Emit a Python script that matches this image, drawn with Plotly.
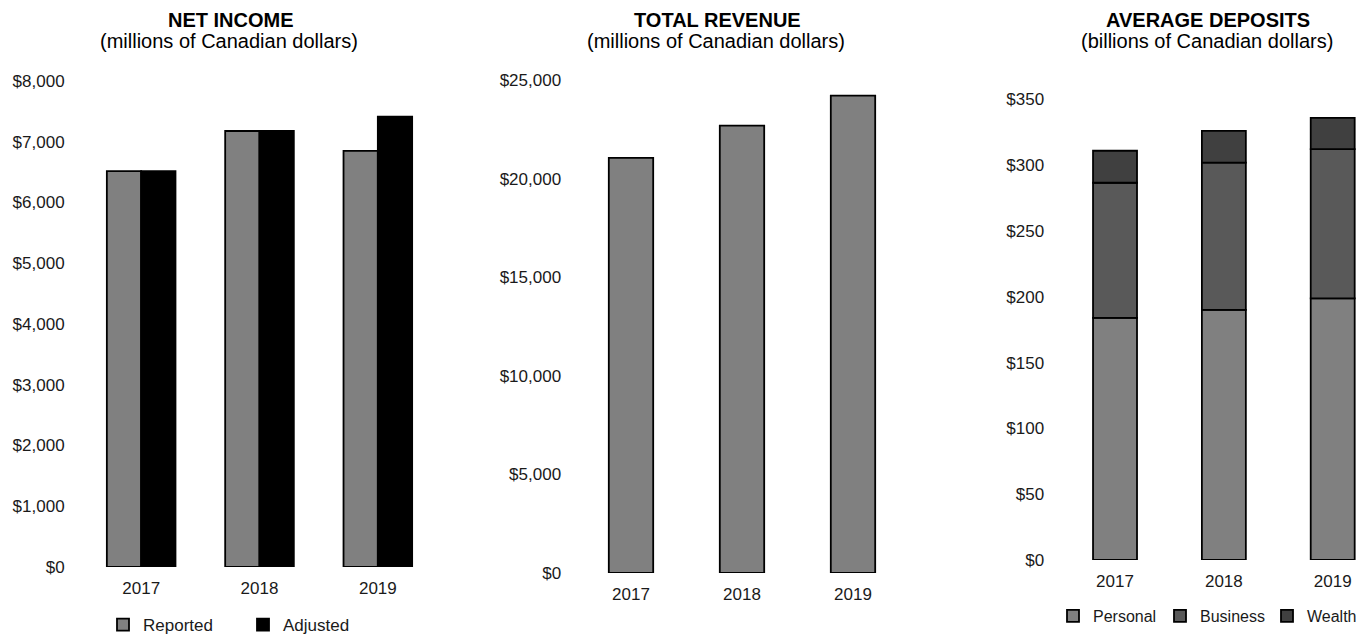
import plotly.graph_objects as go

W, H = 1364, 636

years = ["2017", "2018", "2019"]
net_reported = [6517, 7177, 6849]
net_adjusted = [6517, 7177, 7413]
revenue = [21050, 22685, 24210]
dep_personal = [184.0, 190.0, 198.8]
dep_business = [102.6, 111.9, 113.4]
dep_wealth = [24.3, 24.1, 23.7]

ni_ticks = [0, 1000, 2000, 3000, 4000, 5000, 6000, 7000, 8000]
rev_ticks = [0, 5000, 10000, 15000, 20000, 25000]
dep_ticks = [0, 50, 100, 150, 200, 250, 300, 350]

FONT = "Liberation Sans, Arial, sans-serif"
TXT = "#1a1a1a"
OUT = dict(color="#000000", width=1.8)

def px_x(p):
    return p / W

def px_y(p):
    return 1 - p / H

fig = go.Figure()

xi = [0, 1, 2]
# Chart 1: net income (grouped via explicit offsets)
fig.add_trace(go.Bar(x=xi, y=net_reported, name="Reported", marker=dict(color="#808080", line=OUT),
                     width=0.29, offset=-0.29, xaxis="x", yaxis="y", legend="legend"))
fig.add_trace(go.Bar(x=xi, y=net_adjusted, name="Adjusted", marker=dict(color="#000000", line=OUT),
                     width=0.29, offset=0.0, xaxis="x", yaxis="y", legend="legend"))

# Chart 2: revenue
fig.add_trace(go.Bar(x=xi, y=revenue, name="Revenue", marker=dict(color="#808080", line=OUT),
                     width=0.40, offset=-0.20, xaxis="x2", yaxis="y2", showlegend=False))

# Chart 3: stacked deposits
base_b = [p for p in dep_personal]
base_w = [p + b for p, b in zip(dep_personal, dep_business)]
fig.add_trace(go.Bar(x=xi, y=dep_personal, name="Personal", marker=dict(color="#808080", line=OUT),
                     width=0.404, offset=-0.202, xaxis="x3", yaxis="y3", legend="legend2"))
fig.add_trace(go.Bar(x=xi, y=dep_business, base=base_b, name="Business", marker=dict(color="#595959", line=OUT),
                     width=0.404, offset=-0.202, xaxis="x3", yaxis="y3", legend="legend2"))
fig.add_trace(go.Bar(x=xi, y=dep_wealth, base=base_w, name="Wealth", marker=dict(color="#404040", line=OUT),
                     width=0.404, offset=-0.202, xaxis="x3", yaxis="y3", legend="legend2"))

tickfont = dict(family=FONT, size=17, color=TXT)

def xaxis(dom, rng, anchor):
    return dict(domain=dom, range=rng, anchor=anchor, tickmode="array", tickvals=xi, ticktext=years,
                showgrid=False, zeroline=False, showline=False, ticks="outside", ticklen=6,
                tickcolor="rgba(0,0,0,0)", tickfont=tickfont, fixedrange=True)

def yaxis(dom, rng, anchor, tv, fmt, tl):
    return dict(domain=dom, range=rng, anchor=anchor, tickmode="array", tickvals=tv,
                ticktext=[fmt(v) for v in tv], showgrid=False, zeroline=False, showline=False,
                ticks="outside", ticklen=tl, tickcolor="rgba(0,0,0,0)", tickfont=tickfont, fixedrange=True)

money = lambda v: "${:,.0f}".format(v)

fig.update_layout(
    width=W, height=H,
    margin=dict(l=0, r=0, t=0, b=0, autoexpand=False),
    paper_bgcolor="white", plot_bgcolor="white",
    barmode="overlay",
    font=dict(family=FONT, color=TXT),
    xaxis=xaxis([px_x(82), px_x(437)], [-0.5, 2.5], "y"),
    yaxis=yaxis([px_y(567), px_y(81)], [0, 8000], "x", ni_ticks, money, 13),
    xaxis2=xaxis([px_x(575.5), px_x(908.5)], [-0.5, 2.5], "y2"),
    yaxis2=yaxis([px_y(573), px_y(80)], [0, 25000], "x2", rev_ticks, money, 10),
    xaxis3=xaxis([px_x(1060.6), 1.0], [-0.5, (1364 - 1115) / 108.85], "y3"),
    yaxis3=yaxis([px_y(560), px_y(99.3)], [0, 350], "x3", dep_ticks, money, 12),
    legend=dict(orientation="h", x=px_x(103), y=px_y(625), xanchor="left", yanchor="middle",
                font=dict(family=FONT, size=17, color=TXT), entrywidth=95, bgcolor="rgba(0,0,0,0)",
                itemclick=False, itemdoubleclick=False),
    legend2=dict(orientation="h", x=px_x(1053), y=px_y(616), xanchor="left", yanchor="middle",
                 font=dict(family=FONT, size=16, color=TXT), entrywidth=62, bgcolor="rgba(0,0,0,0)",
                 itemclick=False, itemdoubleclick=False),
    showlegend=True,
)

titles = [
    (231, "NET INCOME", 229, "(millions of Canadian dollars)"),
    (717, "TOTAL REVENUE", 716, "(millions of Canadian dollars)"),
    (1208, "AVERAGE DEPOSITS", 1207, "(billions of Canadian dollars)"),
]
for tx, t, sx, s in titles:
    fig.add_annotation(x=px_x(tx), y=px_y(20), xref="paper", yref="paper", text="<b>" + t + "</b>",
                       showarrow=False, xanchor="center", yanchor="middle",
                       font=dict(family=FONT, size=20, color="#000000"))
    fig.add_annotation(x=px_x(sx), y=px_y(41), xref="paper", yref="paper", text=s,
                       showarrow=False, xanchor="center", yanchor="middle",
                       font=dict(family=FONT, size=20, color="#000000"))

fig.write_html("out.html", config=dict(displayModeBar=False),
               post_script="document.body.style.margin='0';document.body.style.overflow='hidden';")
